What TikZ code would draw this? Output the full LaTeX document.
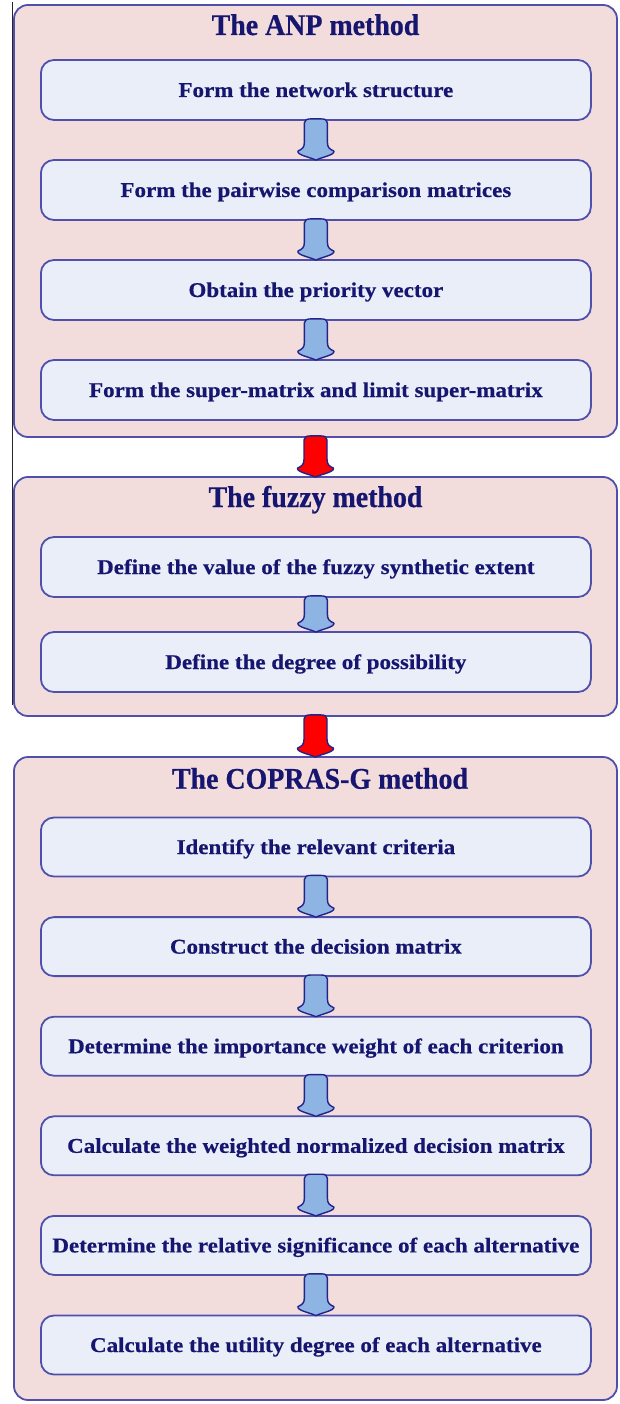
\documentclass[tikz,border=0pt]{standalone}
\usepackage{fontspec}
\setmainfont{Liberation Serif}
\newfontfamily\boxfont{Liberation Serif}[FakeStretch=1.095, FakeBold=0.5]
\newfontfamily\titlefont{Liberation Serif}[FakeStretch=0.93, FakeBold=0.6]
\usetikzlibrary{calc}
\definecolor{outerfill}{RGB}{242,221,220}
\definecolor{innerfill}{RGB}{234,238,248}
\definecolor{bordercol}{RGB}{80,80,172}
\definecolor{textcol}{RGB}{22,22,112}
\definecolor{arrowblue}{RGB}{142,180,227}
\definecolor{arrowedge}{RGB}{35,35,140}
\tikzset{
  outerbox/.style={draw=bordercol, line width=1.8pt, fill=outerfill, rounded corners=14pt, minimum width=603pt, inner sep=0pt},
  innerbox/.style={draw=bordercol, line width=1.8pt, fill=innerfill, rounded corners=13pt, minimum width=550pt, minimum height=60pt, inner sep=0pt,
     font=\boxfont\bfseries\fontsize{21}{25}\selectfont, text=textcol, text height=14pt, text depth=0pt},
  titlenode/.style={font=\titlefont\bfseries\fontsize{30}{35}\selectfont, text=textcol, inner sep=0pt, text height=20pt, text depth=0pt},
  arrowline/.style={draw=arrowedge, line width=1.4pt, line join=round}
}
\newcommand{\blockarrow}[3]{%
  \draw[arrowline, fill=#3] let \p1=(#1.south), \p2=(#2.north) in
   ({\x1-11.5pt},{\y1-2pt}) .. controls ({\x1-11.5pt},{\y1+1pt}) and ({\x1-9pt},{\y1+2pt}) .. ({\x1-5pt},{\y1+2pt})
   -- ({\x1+5pt},{\y1+2pt}) .. controls ({\x1+9pt},{\y1+2pt}) and ({\x1+11.5pt},{\y1+1pt}) .. ({\x1+11.5pt},{\y1-2pt})
   -- ({\x1+11.5pt},{\y2+17pt}) .. controls ({\x1+11.5pt},{\y2+11pt}) and ({\x1+14pt},{\y2+10pt}) .. ({\x1+18pt},{\y2+8pt})
   .. controls ({\x1+19pt},{\y2+4pt}) and ({\x1+6pt},{\y2+2pt}) .. ({\x1},{\y2-1pt})
   .. controls ({\x1-6pt},{\y2+2pt}) and ({\x1-19pt},{\y2+4pt}) .. ({\x1-18pt},{\y2+8pt})
   .. controls ({\x1-14pt},{\y2+10pt}) and ({\x1-11.5pt},{\y2+11pt}) .. ({\x1-11.5pt},{\y2+17pt}) -- cycle;
}
\begin{document}
\begin{tikzpicture}[x=1pt, y=-1pt]
\useasboundingbox (0,0) rectangle (619,1404);
\draw[line width=1.1pt, black!85] (12.3,2) -- (12.3,705);
% outer boxes
\node[outerbox, minimum height=432pt] (anp) at (315.5,221) {};
\node[outerbox, minimum height=239pt] (fuzzy) at (315.5,596.5) {};
\node[outerbox, minimum height=643pt] (copras) at (315.5,1078.5) {};
% titles
\node[titlenode] (t1) at (315.5,25) {The ANP method};
\node[titlenode] (t2) at (315.5,497) {The fuzzy method};
\node[titlenode] (t3) at (320,778.7) {The COPRAS-G method};
% ANP steps
\node[innerbox] (a1) at (315.9,90) {Form the network structure};
\node[innerbox] (a2) at (315.9,190) {Form the pairwise comparison matrices};
\node[innerbox] (a3) at (315.9,290) {Obtain the priority vector};
\node[innerbox] (a4) at (315.9,390) {Form the super-matrix and limit super-matrix};
% fuzzy steps
\node[innerbox] (f1) at (315.9,567) {Define the value of the fuzzy synthetic extent};
\node[innerbox] (f2) at (315.9,662) {Define the degree of possibility};
% COPRAS-G steps
\node[innerbox, minimum height=59pt] (c1) at (315.9,847) {Identify the relevant criteria};
\node[innerbox, minimum height=59pt] (c2) at (315.9,946.6) {Construct the decision matrix};
\node[innerbox, minimum height=59pt] (c3) at (315.9,1046.2) {Determine the importance weight of each criterion};
\node[innerbox, minimum height=59pt] (c4) at (315.9,1145.8) {Calculate the weighted normalized decision matrix};
\node[innerbox, minimum height=59pt] (c5) at (315.9,1245.4) {Determine the relative significance of each alternative};
\node[innerbox, minimum height=59pt] (c6) at (315.9,1345) {Calculate the utility degree of each alternative};
% arrows
\blockarrow{a1}{a2}{arrowblue}
\blockarrow{a2}{a3}{arrowblue}
\blockarrow{a3}{a4}{arrowblue}
\blockarrow{f1}{f2}{arrowblue}
\blockarrow{c1}{c2}{arrowblue}
\blockarrow{c2}{c3}{arrowblue}
\blockarrow{c3}{c4}{arrowblue}
\blockarrow{c4}{c5}{arrowblue}
\blockarrow{c5}{c6}{arrowblue}
\blockarrow{anp}{fuzzy}{red}
\blockarrow{fuzzy}{copras}{red}
\end{tikzpicture}
\end{document}
